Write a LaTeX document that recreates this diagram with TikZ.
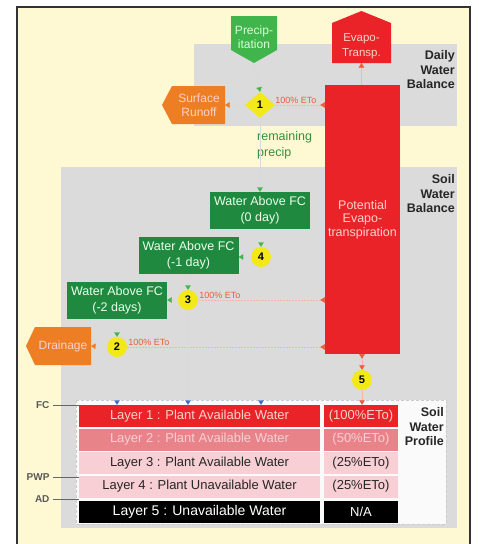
\documentclass[tikz,border=0pt]{standalone}
\usepackage{fontspec}
\setmainfont{Liberation Sans}
\usepackage{xcolor}
\usepackage{tikz}
\usetikzlibrary{arrows.meta,positioning,shapes.geometric}

\definecolor{bgyellow}{HTML}{FFF9D3}
\definecolor{panelgray}{HTML}{DBDBDB}
\definecolor{petred}{HTML}{EA2329}
\definecolor{precipgreen}{HTML}{40B54B}
\definecolor{fcgreen}{HTML}{1F8A3F}
\definecolor{runorange}{HTML}{EE7E24}
\definecolor{numyellow}{HTML}{F3E919}
\definecolor{pinktext}{HTML}{FAD2CC}
\definecolor{layertwo}{HTML}{E9838A}
\definecolor{layerpink}{HTML}{F8CFD4}
\definecolor{tipblue}{HTML}{3D6DC2}
\definecolor{etored}{HTML}{EF5A3C}

\begin{document}
\begin{tikzpicture}[x=1pt, y=-1pt,
    font=\fontsize{12.5}{14.5}\selectfont,
    wab/.style={fill=fcgreen, text=white!92!green, minimum width=100pt, minimum height=37pt, inner sep=0pt, align=center, font=\fontsize{12.5}{16}\selectfont},
    num/.style={circle, fill=numyellow, minimum size=20pt, inner sep=0pt, font=\fontsize{11}{11}\selectfont\bfseries},
    tag/.style={anchor=north east, align=right, inner sep=0pt, font=\fontsize{12.5}{14.8}\selectfont\bfseries, text=black!85},
    lay/.style={minimum width=241pt, minimum height=22pt, inner sep=0pt, font=\fontsize{13}{13}\selectfont},
    eto/.style={minimum width=74pt, minimum height=22pt, inner sep=0pt, font=\fontsize{13}{13}\selectfont},
    lvl/.style={anchor=east, font=\fontsize{10}{10}\selectfont\bfseries, text=black!65},
    pct/.style={font=\fontsize{9}{9}\selectfont, text=etored, anchor=south west, inner sep=1pt},
    faint/.style={draw=gray!30, line width=0.4pt},
    gflow/.style={faint, -{Triangle[length=4.5pt, width=5.5pt, color=precipgreen]}},
    oflow/.style={faint, -{Triangle[length=4.5pt, width=5.5pt, color=runorange]}},
    bflow/.style={faint, -{Triangle[length=4.5pt, width=5.5pt, color=tipblue]}},
    rflow/.style={draw=etored!45, densely dotted, line width=0.5pt, {Triangle[reversed, length=4.5pt, width=5.5pt, color=etored]}-},
    rout/.style={draw=etored!45, line width=0.5pt, {Triangle[reversed, length=4.5pt, width=5.5pt, color=etored]}-{Triangle[length=4.5pt, width=5.5pt, color=etored]}},
    rup/.style={draw=etored!45, line width=0.5pt, -{Triangle[length=4.5pt, width=5.5pt, color=etored]}}
]
\useasboundingbox (0,0) rectangle (479,544);

% frame and panels
\fill[bgyellow] (17,7) rectangle (470,544);
\draw[black!80, line width=1.3pt] (17,544) -- (17,7) -- (470,7) -- (470,544);
\fill[panelgray] (194,44) rectangle (457,126);
\fill[panelgray] (61,167) rectangle (457,528);
\filldraw[fill=white!96!gray, draw=gray!40, densely dashed, line width=0.4pt] (76,400) rectangle (446,524);

% inputs and outputs
\fill[precipgreen] (231,16) -- (277,16) -- (277,50) -- (254,63) -- (231,50) -- cycle;
\node[text=white!85!green, align=center, font=\fontsize{12}{14.5}\selectfont] (precip) at (254,37) {Precip-\\itation};
\coordinate (precip tip) at (254,63);

\fill[petred] (332,23) -- (361.5,11) -- (391,23) -- (391,63) -- (332,63) -- cycle;
\node[text=pinktext, align=center, font=\fontsize{11.5}{14.5}\selectfont] (evap) at (361.5,46) {Evapo-\\Transp.};
\coordinate (evap base) at (361.5,63);

\fill[runorange] (162,105) -- (172,86) -- (225,86) -- (225,124) -- (172,124) -- cycle;
\node[text=pinktext, align=center, font=\fontsize{12}{14.5}\selectfont] (runoff) at (199,105) {Surface\\Runoff};
\coordinate (runoff side) at (225,105);

\fill[runorange] (26,346) -- (35,327) -- (91,327) -- (91,365) -- (35,365) -- cycle;
\node[text=pinktext, font=\fontsize{12}{14.5}\selectfont] (drain) at (63,346) {Drainage};
\coordinate (drain side) at (91,346);

% balance
\node[diamond, fill=numyellow, minimum width=30pt, minimum height=26pt, inner sep=0pt, font=\fontsize{11}{11}\selectfont\bfseries] (d1) at (260,105) {1};
\node[fill=petred, text=pinktext, minimum width=75pt, minimum height=269pt, inner sep=0pt, align=center, font=\fontsize{12.5}{13.3}\selectfont] (pet) at (362.5,219.5) {Potential\\Evapo-\\transpiration};
\node[text=precipgreen!80!black, align=left, anchor=west, inner sep=0pt, font=\fontsize{12.5}{16}\selectfont] (remain) at (257,145) {remaining\\precip};

\node[wab] (w0) at (260,210.5) {Water Above FC\\(0 day)};
\node[wab] (w1) at (188.5,255.5) {Water Above FC\\(-1 day)};
\node[wab] (w2) at (117,300.5) {Water Above FC\\(-2 days)};

\node[num] (c4) at (261,257) {4};
\node[num] (c3) at (188,300) {3};
\node[num] (c2) at (117,347) {2};
\node[num] (c5) at (362,380) {5};

% soil profile
\node[lay, fill=petred, text=pinktext] (r1) at (199.5,416) {Layer 1 : Plant Available Water};
\node[lay, fill=layertwo, text=layerpink] (r2) at (199.5,439.5) {Layer 2 : Plant Available Water};
\node[lay, fill=layerpink, text=black!85] (r3) at (199.5,463) {Layer 3 : Plant Available Water};
\node[lay, fill=layerpink, text=black!85] (r4) at (199.5,486.5) {Layer 4 : Plant Unavailable Water};
\node[lay, fill=black, text=white, font=\fontsize{14}{14}\selectfont] (r5) at (199.5,512) {Layer 5 : Unavailable Water};
\node[eto, fill=petred, text=pinktext] (e1) at (361,416) {(100\%ETo)};
\node[eto, fill=layertwo, text=layerpink] (e2) at (361,439.5) {(50\%ETo)};
\node[eto, fill=layerpink, text=black!85] (e3) at (361,463) {(25\%ETo)};
\node[eto, fill=layerpink, text=black!85] (e4) at (361,486.5) {(25\%ETo)};
\node[eto, fill=black, text=white] (e5) at (361,512) {N/A};

\node[lvl] (fc) at (53,405) {FC};
\node[lvl] (pwp) at (53,477) {PWP};
\node[lvl] (ad) at (53,499) {AD};
\draw[black!60, line width=0.7pt] (fc.east) -- (fc -| r1.west);
\draw[black!60, line width=0.7pt] (pwp.east) -- (pwp -| r4.west);
\draw[black!60, line width=0.7pt] (ad.east) -- (ad -| r5.west);

% panel titles
\node[tag] (daily) at (455,50) {Daily\\Water\\Balance};
\node[tag] (soilbal) at (455,174) {Soil\\Water\\Balance};
\node[tag] (profile) at (444,407) {Soil\\Water\\Profile};

% flows
\draw[gflow] (precip tip) -- (d1.north);
\draw[oflow] (d1.west) -- (runoff side);
\draw[rflow] (pet.west |- d1) -- (d1.east) node[pct, pos=1, xshift=-1pt] {100\% ETo};
\draw[rup] (pet.north -| evap base) -- (evap base);
\draw[gflow] (d1.south) -- (w0.north);
\draw[gflow] (w0.south -| c4) -- (c4.north);
\draw[gflow] (c4.west) -- (w1.east |- c4);
\draw[gflow] (w1.south -| c3) -- (c3.north);
\draw[gflow] (c3.west) -- (w2.east |- c3);
\draw[gflow] (w2.south) -- (c2.north);
\draw[oflow] (c2.west) -- (drain side);
\draw[rflow] (pet.west |- c3) -- (c3.east) node[pct, pos=1] {100\% ETo};
\draw[rflow] (pet.west |- c2) -- (c2.east) node[pct, pos=1] {100\% ETo};
\draw[rout] (pet.south -| c5) -- (c5.north);
\draw[rup] (c5.south) -- (c5 |- e1.north);
\foreach \c in {c2,c3,c4}
  \draw[bflow] (\c.south) -- (\c |- r1.north);
\end{tikzpicture}
\end{document}
